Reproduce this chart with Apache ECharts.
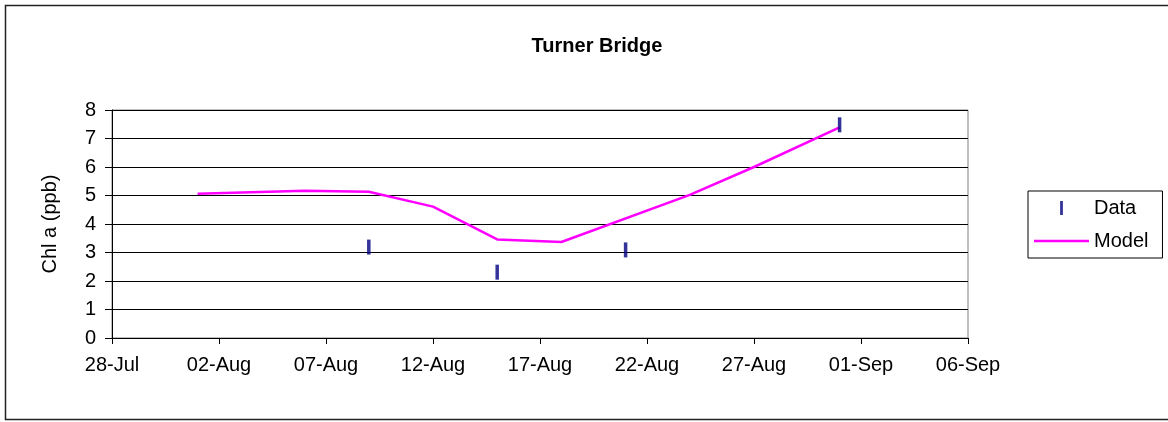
<!DOCTYPE html>
<html>
<head>
<meta charset="utf-8">
<script src="https://cdn.jsdelivr.net/npm/echarts@6/dist/echarts.min.js"></script>
<style>
  html, body { margin: 0; padding: 0; background: #fff; }
  #chart-container { width: 1168px; height: 422px; }
</style>
</head>
<body>
<div id="chart-container"></div>
<script>
var dom = document.getElementById("chart-container");
var myChart = echarts.init(dom, null, { renderer: "canvas" });

// axis start and tick labels (every 5 days)
var startDate = "2005-07-28";
var xTickLabels = ["28-Jul", "02-Aug", "07-Aug", "12-Aug", "17-Aug", "22-Aug", "27-Aug", "01-Sep", "06-Sep"];
var yTicks = [0, 1, 2, 3, 4, 5, 6, 7, 8];

// observed Chl a
var dataDates = ["2005-08-09", "2005-08-15", "2005-08-21", "2005-08-31"];
var dataValues = [3.19, 2.31, 3.09, 7.48];

// model output
var modelDates = ["2005-08-01", "2005-08-06", "2005-08-09", "2005-08-12", "2005-08-15",
                  "2005-08-18", "2005-08-24", "2005-08-27", "2005-08-31"];
var modelValues = [5.06, 5.17, 5.13, 4.61, 3.46, 3.37, 5.02, 6.0, 7.39];

function dayOffset(d) {
  return Math.round((Date.parse(d) - Date.parse(startDate)) / 86400000);
}

function pairs(dates, values) {
  return dates.map(function (d, i) { return [dayOffset(d), values[i]]; });
}

var font = "Liberation Sans";

var option = {
  animation: false,
  backgroundColor: "#fff",
  textStyle: { fontFamily: font },
  title: {
    text: "Turner Bridge",
    left: 592,
    top: 31,
    textAlign: "center",
    textStyle: { fontFamily: font, fontSize: 20, fontWeight: "bold", color: "#000" }
  },
  legend: {
    orient: "vertical",
    left: 1028,
    top: 191,
    align: "left",
    itemWidth: 55,
    itemHeight: 14,
    itemGap: 13,
    padding: [7, 14, 7, 6],
    borderColor: "#000",
    borderWidth: 1,
    textStyle: { fontFamily: font, fontSize: 20, color: "#000", lineHeight: 20 },
    data: [
      { name: "Data", icon: "path://M0,0h3v15h-3z" },
      { name: "Model", icon: "path://M0,0h55v2.5h-55z" }
    ]
  },
  graphic: [{
    type: "rect",
    shape: { x: 5.5, y: 5.5, width: 1170, height: 414 },
    style: { fill: null, stroke: "#222", lineWidth: 1.5 },
    silent: true
  }],
  grid: {
    left: 112,
    top: 110,
    width: 856,
    height: 228,
    show: true,
    borderColor: "#808080",
    borderWidth: 1,
    backgroundColor: "transparent"
  },
  xAxis: {
    type: "value",
    min: 0,
    max: 40,
    interval: 5,
    axisLine: { show: true, onZero: false, lineStyle: { color: "#000", width: 1 } },
    axisTick: { show: true, inside: false, length: 6, lineStyle: { color: "#000" } },
    splitLine: { show: false },
    axisLabel: {
      margin: 17,
      fontFamily: font,
      fontSize: 20,
      color: "#000",
      formatter: function (v) { return xTickLabels[Math.round(v / 5)] || ""; }
    }
  },
  yAxis: {
    type: "value",
    min: yTicks[0],
    max: yTicks[yTicks.length - 1],
    interval: 1,
    name: "Chl a (ppb)",
    nameLocation: "middle",
    nameGap: 52,
    nameTextStyle: { fontFamily: font, fontSize: 20, color: "#000" },
    axisLine: { show: true, lineStyle: { color: "#000", width: 1 } },
    axisTick: { show: true, inside: false, length: 7, lineStyle: { color: "#000" } },
    splitLine: { show: true, lineStyle: { color: "#000", width: 1 } },
    axisLabel: { margin: 16, fontFamily: font, fontSize: 20, color: "#000" }
  },
  series: [
    {
      name: "Data",
      type: "scatter",
      symbol: "rect",
      symbolSize: [3.5, 15],
      itemStyle: { color: "#000080" },
      data: pairs(dataDates, dataValues),
      z: 3
    },
    {
      name: "Model",
      type: "line",
      symbol: "none",
      lineStyle: { color: "#ff00ff", width: 2.5 },
      itemStyle: { color: "#ff00ff" },
      data: pairs(modelDates, modelValues),
      z: 2
    }
  ]
};

myChart.setOption(option);
window.addEventListener("resize", myChart.resize);
</script>
</body>
</html>
